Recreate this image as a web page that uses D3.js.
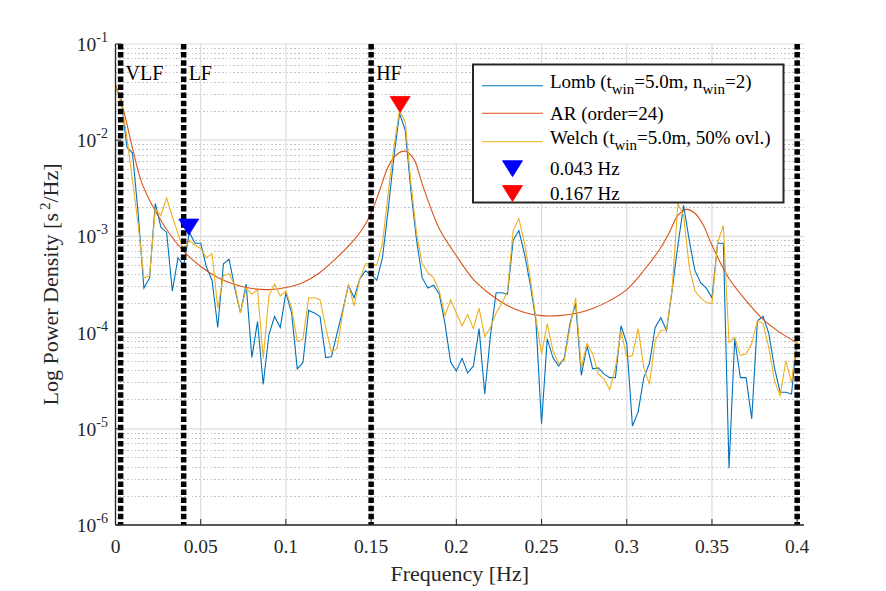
<!DOCTYPE html>
<html><head><meta charset="utf-8">
<script src="https://cdn.jsdelivr.net/npm/d3@7"></script>
<style>
body{margin:0;background:#fff}
svg{display:block}
text{font-family:"Liberation Serif","Times New Roman",serif;fill:#262626}
</style>
</head><body>
<svg id="chart" width="886" height="591"></svg>
<script>
// ---------------- DATA ----------------
const freqStep = 1 / 300; // Hz, spectral resolution of Lomb / Welch estimates
const lombPow = [
 3.5e-2, 2.7e-2, 8.5e-3, 7.3e-3, 1.7e-3, 2.9e-4, 3.7e-4, 2.2e-3, 1.24e-3, 1.1e-3,
 2.7e-4, 6.0e-4, 5.0e-4, 1.1e-3, 8.5e-4, 8.5e-4, 4.8e-4, 3.5e-4, 1.13e-4, 5.2e-4,
 5.8e-4, 2.9e-4, 1.6e-4, 3.2e-4, 5.5e-5, 1.3e-4, 2.9e-5, 9.5e-5, 1.47e-4, 1.13e-4,
 2.6e-4, 1.6e-4, 4.2e-5, 4.9e-5, 1.7e-4, 1.6e-4, 1.47e-4, 5.5e-5, 5.6e-5, 9.8e-5,
 1.7e-4, 3.1e-4, 2.3e-4, 3.6e-4, 4.4e-4, 4.0e-4, 3.5e-4, 6.0e-4, 1.9e-3, 6.6e-3,
 1.9e-2, 1.27e-2, 3.0e-3, 9.1e-4, 3.7e-4, 2.9e-4, 3.1e-4, 2.5e-4, 1.24e-4, 4.9e-5,
 4.0e-5, 5.4e-5, 3.8e-5, 4.5e-5, 1.1e-4, 2.3e-5, 9.3e-5, 2.6e-4, 2.6e-4, 2.5e-4,
 9.1e-4, 1.15e-3, 6.6e-4, 3.2e-4, 1.33e-4, 1.13e-5, 8.6e-5, 5.5e-5, 4.5e-5, 5.4e-5,
 1.24e-4, 2.0e-4, 3.6e-5, 7.3e-5, 4.2e-5, 4.3e-5, 3.7e-5, 3.4e-5, 3.4e-5, 1.18e-4,
 7.7e-5, 1.07e-5, 1.5e-5, 3.4e-5, 4.8e-5, 1.13e-4, 1.43e-4, 1.05e-4, 2.8e-4, 8.1e-4,
 2.1e-3, 9.1e-4, 4.4e-4, 3.3e-4, 2.9e-4, 2.3e-4, 8.5e-4, 8.5e-4, 3.9e-6, 8.6e-5,
 3.4e-5, 3.4e-5, 1.27e-5, 1.33e-4, 1.47e-4, 9.8e-5, 4.3e-5, 2.4e-5, 2.4e-5, 2.3e-5,
 8.9e-5
];
const welchPow = [
 3.6e-2, 2.6e-2, 1.07e-2, 3.8e-3, 1.3e-3, 3.7e-4, 3.9e-4, 1.9e-3, 1.65e-3, 2.5e-3,
 1.6e-3, 1.07e-3, 7.1e-4, 9.1e-4, 8.1e-4, 7.5e-4, 6.0e-4, 6.6e-4, 1.8e-4, 3.9e-4,
 4.1e-4, 3.1e-4, 1.6e-4, 2.9e-4, 2.5e-4, 2.8e-4, 5.4e-5, 2.4e-4, 3.2e-4, 2.4e-4,
 2.7e-4, 1.8e-4, 8.1e-5, 8.6e-5, 2.3e-4, 2.3e-4, 2.2e-4, 1.13e-4, 6.3e-5, 6.8e-5,
 1.6e-4, 3.2e-4, 1.9e-4, 3.6e-4, 5.2e-4, 5.2e-4, 5.0e-4, 8.5e-4, 2.8e-3, 8.5e-3,
 2.05e-2, 1.54e-2, 3.6e-3, 1.07e-3, 5.2e-4, 4.2e-4, 3.7e-4, 2.7e-4, 1.5e-4, 2.2e-4,
 1.6e-4, 1.18e-4, 1.54e-4, 1.1e-4, 1.8e-4, 9.1e-5, 1.13e-4, 1.6e-4, 2.0e-4, 2.7e-4,
 1.15e-3, 1.54e-3, 8.5e-4, 3.7e-4, 1.43e-4, 6.0e-5, 1.24e-4, 6.5e-5, 4.8e-5, 5.1e-5,
 1.13e-4, 2.3e-4, 4.3e-5, 7.7e-5, 6.0e-5, 3.7e-5, 3.3e-5, 2.55e-5, 4.3e-5, 1.05e-4,
 5.5e-5, 5.8e-5, 1.1e-4, 4.3e-5, 2.9e-5, 8.3e-5, 1.05e-4, 1.07e-4, 2.9e-4, 2.2e-3,
 1.65e-3, 4.8e-4, 2.7e-4, 2.3e-4, 2.05e-4, 2.0e-4, 8.65e-4, 1.3e-3, 7.9e-5, 8.9e-5,
 5.8e-5, 6.0e-5, 7.7e-5, 1.33e-4, 1.24e-4, 7.0e-5, 3.16e-5, 2.2e-5, 5.1e-5, 3.0e-5,
 9.3e-5
];
const arFreq = [0, 0.005, 0.01, 0.015, 0.02, 0.025, 0.03, 0.04, 0.05, 0.06, 0.07, 0.08, 0.09, 0.10,
 0.11, 0.12, 0.13, 0.14, 0.145, 0.15, 0.155, 0.16, 0.165, 0.17, 0.175, 0.18, 0.19, 0.20, 0.21, 0.22,
 0.23, 0.24, 0.25, 0.26, 0.27, 0.28, 0.29, 0.30, 0.31, 0.32, 0.325, 0.33, 0.335, 0.34, 0.345, 0.35,
 0.36, 0.37, 0.38, 0.39, 0.40];
const arPow = [3.8e-2, 1.96e-2, 8.2e-3, 3.8e-3, 2.37e-3, 1.65e-3, 1.18e-3, 7.0e-4, 4.87e-4, 3.74e-4,
 3.16e-4, 2.87e-4, 2.8e-4, 2.94e-4, 3.32e-4, 4.22e-4, 6.04e-4, 9.2e-4, 1.2e-3, 1.75e-3, 3.0e-3,
 5.3e-3, 7.1e-3, 7.68e-3, 6.4e-3, 3.5e-3, 1.2e-3, 6.3e-4, 3.57e-4, 2.49e-4, 1.91e-4, 1.62e-4,
 1.5e-4, 1.5e-4, 1.58e-4, 1.78e-4, 2.15e-4, 2.8e-4, 4.42e-4, 7.68e-4, 1.1e-3, 1.65e-3, 1.91e-3,
 1.74e-3, 1.3e-3, 8.1e-4, 3.65e-4, 2.15e-4, 1.37e-4, 1.0e-4, 7.86e-5];
const bandEdges = [0.003, 0.04, 0.15, 0.4];
const bandLabels = ["VLF", "LF", "HF"];
const peakFreq = [0.043, 0.167];
const peakPow = [1.25e-3, 2.35e-2];
const peakLabels = ["0.043 Hz", "0.167 Hz"];
const peakColors = ["#0000ff", "#ff0000"];
const xTicks = [0, 0.05, 0.1, 0.15, 0.2, 0.25, 0.3, 0.35, 0.4];
const xTickLabels = ["0", "0.05", "0.1", "0.15", "0.2", "0.25", "0.3", "0.35", "0.4"];
const yExponents = [-6, -5, -4, -3, -2, -1];
const seriesColors = {lomb: "#0072BD", ar: "#D95319", welch: "#EDB120"};

// ---------------- LAYOUT ----------------
const svg = d3.select("#chart");
const L = 115.5, R = 804, T = 44, B = 525;
const x = d3.scaleLinear().domain([0, 0.404]).range([L, R]);
const y = d3.scaleLog().domain([1e-6, 1e-1]).range([B, T]);

const lombData = lombPow.map((v, k) => [k * freqStep, v]);
const welchData = welchPow.map((v, k) => [k * freqStep, v]);
const arData = arFreq.map((f, i) => [f, arPow[i]]);

// grid
const g = svg.append("g");
const minorVals = [];
yExponents.slice(0, -1).forEach(e => { for (let m = 2; m <= 9; m++) minorVals.push(m * Math.pow(10, e)); });
g.selectAll(".ming").data(minorVals).join("line")
  .attr("x1", L).attr("x2", R).attr("y1", d => y(d)).attr("y2", d => y(d))
  .attr("stroke", "#c4c4c4").attr("stroke-width", 1).attr("stroke-dasharray", "1.6,2.2")
  .attr("shape-rendering", "crispEdges");
g.selectAll(".majy").data(yExponents.map(e => Math.pow(10, e))).join("line")
  .attr("x1", L).attr("x2", R).attr("y1", d => y(d)).attr("y2", d => y(d))
  .attr("stroke", "#dcdcdc").attr("stroke-width", 1.2);
g.selectAll(".majx").data(xTicks).join("line")
  .attr("x1", d => x(d)).attr("x2", d => x(d)).attr("y1", T).attr("y2", B)
  .attr("stroke", "#dcdcdc").attr("stroke-width", 1.2);

// clip
svg.append("clipPath").attr("id", "clip").append("rect")
  .attr("x", L).attr("y", T).attr("width", R - L).attr("height", B - T);
const plot = svg.append("g").attr("clip-path", "url(#clip)");

const lineStraight = d3.line().x(d => x(d[0])).y(d => y(d[1]));
const lineSmooth = d3.line().x(d => x(d[0])).y(d => y(d[1])).curve(d3.curveCatmullRom.alpha(0.5));

plot.append("path").datum(lombData).attr("d", lineStraight)
  .attr("fill", "none").attr("stroke", seriesColors.lomb).attr("stroke-width", 1.1);
plot.append("path").datum(arData).attr("d", lineSmooth)
  .attr("fill", "none").attr("stroke", seriesColors.ar).attr("stroke-width", 1.1);
plot.append("path").datum(welchData).attr("d", lineStraight)
  .attr("fill", "none").attr("stroke", seriesColors.welch).attr("stroke-width", 1.1);

// band edges
svg.selectAll(".band").data(bandEdges).join("line")
  .attr("x1", d => x(d)).attr("x2", d => x(d)).attr("y1", T).attr("y2", B)
  .attr("stroke", "#000").attr("stroke-width", 5.5).attr("stroke-dasharray", "5.5,2.6");
svg.selectAll(".bandlab").data(bandLabels).join("text")
  .attr("x", (d, i) => x(bandEdges[i]) + 5).attr("y", 80)
  .attr("font-size", 20).style("fill", "#000").text(d => d);

// peak markers
const tri = "M-10,-8L10,-8L0,8Z";
svg.selectAll(".peak").data(peakFreq).join("path")
  .attr("d", tri).attr("transform", (d, i) => `translate(${x(d)},${y(peakPow[i])})`)
  .attr("fill", (d, i) => peakColors[i]).attr("stroke", (d, i) => peakColors[i]).attr("stroke-width", 0.8);

// axes
const ax = svg.append("g");
ax.append("line").attr("x1", L).attr("x2", R).attr("y1", B).attr("y2", B).attr("stroke", "#262626").attr("stroke-width", 1.3);
ax.append("line").attr("x1", L).attr("x2", L).attr("y1", T).attr("y2", B).attr("stroke", "#262626").attr("stroke-width", 1.3);
ax.selectAll(".xt").data(xTicks).join("line")
  .attr("x1", d => x(d)).attr("x2", d => x(d)).attr("y1", B).attr("y2", B - 6).attr("stroke", "#262626");
ax.selectAll(".yt").data(yExponents).join("line")
  .attr("x1", L).attr("x2", L + 6).attr("y1", d => y(Math.pow(10, d))).attr("y2", d => y(Math.pow(10, d))).attr("stroke", "#262626");
ax.selectAll(".xl").data(xTicks).join("text")
  .attr("x", d => x(d)).attr("y", 553).attr("text-anchor", "middle").attr("font-size", 19.5)
  .text((d, i) => xTickLabels[i]);
const yl = ax.selectAll(".yl").data(yExponents).join("text")
  .attr("x", 108).attr("y", d => y(Math.pow(10, d)) + 7).attr("text-anchor", "end").attr("font-size", 19.5);
yl.append("tspan").text("10");
yl.append("tspan").attr("dy", -9).attr("font-size", 14).text(d => String(d));

svg.append("text").attr("x", (L + R) / 2).attr("y", 581).attr("text-anchor", "middle")
  .attr("font-size", 22).text("Frequency [Hz]");
const ylab = svg.append("text").attr("transform", `translate(58,${(T + B) / 2}) rotate(-90)`)
  .attr("text-anchor", "middle").attr("font-size", 22);
ylab.append("tspan").text("Log Power Density [s");
ylab.append("tspan").attr("dy", -8).attr("dx", 3).attr("font-size", 15).text("2");
ylab.append("tspan").attr("dy", 8).text("/Hz]");

// legend
const lg = svg.append("g");
lg.append("rect").attr("x", 473).attr("y", 64.5).attr("width", 310.5).attr("height", 138)
  .attr("fill", "#fff").attr("stroke", "#262626").attr("stroke-width", 2);
const rowY = [85.7, 113.3, 141.7, 168.7, 193.5];
const legendLines = [seriesColors.lomb, seriesColors.ar, seriesColors.welch];
legendLines.forEach((c, i) => {
  lg.append("line").attr("x1", 482).attr("x2", 543).attr("y1", rowY[i]).attr("y2", rowY[i])
    .attr("stroke", c).attr("stroke-width", 1.1);
});
function subText(parts, yy) {
  const t = lg.append("text").attr("x", 550).attr("y", yy).attr("font-size", 19).style("fill", "#000");
  parts.forEach(p => {
    if (p.sub) t.append("tspan").attr("dy", 6).attr("font-size", 15).text(p.s);
    else t.append("tspan").attr("dy", p.after ? -6 : 0).text(p.s);
  });
}
subText([{s: "Lomb (t"}, {s: "win", sub: true}, {s: "=5.0m, n", after: true}, {s: "win", sub: true}, {s: "=2)", after: true}], rowY[0] + 2);
lg.append("text").attr("x", 550).attr("y", rowY[1] + 6.5).attr("font-size", 19).style("fill", "#000").text("AR (order=24)");
subText([{s: "Welch (t"}, {s: "win", sub: true}, {s: "=5.0m, 50% ovl.)", after: true}], rowY[2] + 2);
peakLabels.forEach((lab, i) => {
  lg.append("path").attr("d", tri).attr("transform", `translate(512.5,${rowY[3 + i]})`)
    .attr("fill", peakColors[i]).attr("stroke", peakColors[i]).attr("stroke-width", 0.8);
  lg.append("text").attr("x", 550).attr("y", rowY[3 + i] + 6.5).attr("font-size", 19).style("fill", "#000").text(lab);
});
</script>
</body></html>
